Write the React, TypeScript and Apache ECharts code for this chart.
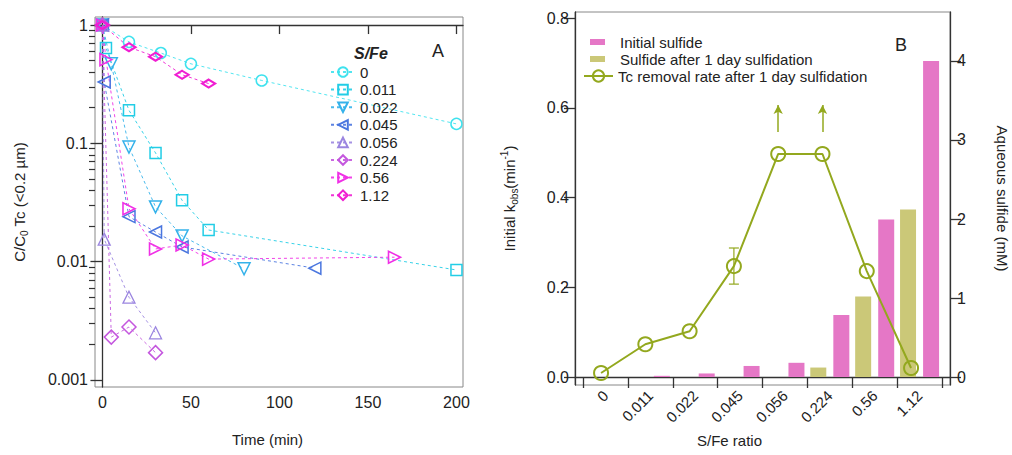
import React, { useEffect, useRef } from 'react';
import * as echarts from 'echarts';

const FONT = "'Liberation Sans', Arial, sans-serif";
const INK = '#222';

// ---------- Panel A: C/C0 vs time ----------
const ratioLabels = ['0', '0.011', '0.022', '0.045', '0.056', '0.224', '0.56', '1.12'];

const timeR0 = [0, 15, 33, 50, 90, 200];
const concR0 = [1, 0.72, 0.58, 0.47, 0.34, 0.146];
const timeR0011 = [0, 2, 15, 30, 45, 60, 200];
const concR0011 = [1, 0.64, 0.19, 0.083, 0.033, 0.0185, 0.0085];
const timeR0022 = [0, 5, 15, 30, 45, 80];
const concR0022 = [1, 0.47, 0.093, 0.029, 0.0165, 0.0087];
const timeR0045 = [0, 1, 15, 30, 45, 120];
const concR0045 = [1, 0.33, 0.024, 0.0178, 0.0133, 0.0088];
const timeR0056 = [0, 1, 15, 30];
const concR0056 = [1, 0.0155, 0.005, 0.0025];
const timeR0224 = [0, 5, 15, 30];
const concR0224 = [1, 0.0023, 0.0028, 0.0017];
const timeR056 = [0, 2, 15, 30, 45, 60, 165];
const concR056 = [1, 0.51, 0.028, 0.0128, 0.0138, 0.0105, 0.0109];
const timeR112 = [0, 15, 30, 45, 60];
const concR112 = [1, 0.65, 0.54, 0.38, 0.32];

const timeTicks = [0, 50, 100, 150, 200];
const concMajorTicks = [0.001, 0.01, 0.1, 1];
const concMinorTicks = [
  0.002, 0.003, 0.004, 0.005, 0.006, 0.007, 0.008, 0.009,
  0.02, 0.03, 0.04, 0.05, 0.06, 0.07, 0.08, 0.09,
  0.2, 0.3, 0.4, 0.5, 0.6, 0.7, 0.8, 0.9,
];

// ---------- Panel B ----------
const kobs = [0.009, 0.073, 0.102, 0.247, 0.497, 0.497, 0.236, 0.02];
const errCats = ['0.045'];
const errLow = [0.207];
const errHigh = [0.2875];
const arrowCats = ['0.056', '0.224'];
const arrowFrom = [0.546, 0.546];
const arrowTo = [0.606, 0.606];
const initialSulfide = [0, 0.015, 0.045, 0.14, 0.18, 0.785, 1.995, 4.0];
const sulfideAfter1d = [null, null, null, null, null, 0.12, 1.02, 2.12];
const kobsTicks = [0, 0.2, 0.4, 0.6, 0.8];
const sulfideTicks = [0, 1, 2, 3, 4];

const NAME_INITIAL = 'Initial sulfide';
const NAME_AFTER = 'Sulfide after 1 day sulfidation';
const NAME_RATE = 'Tc removal rate after 1 day sulfidation';

const PINK = '#e577c6';
const OLIVE_BAR = '#cbc878';
const OLIVE = '#93a81e';

const seriesAData = [
  { t: timeR0, v: concR0 },
  { t: timeR0011, v: concR0011 },
  { t: timeR0022, v: concR0022 },
  { t: timeR0045, v: concR0045 },
  { t: timeR0056, v: concR0056 },
  { t: timeR0224, v: concR0224 },
  { t: timeR056, v: concR056 },
  { t: timeR112, v: concR112 },
];

const styleA = [
  { color: '#3fe2ee', symbol: 'circle', size: 11, rotate: 0, bw: 1.5 },
  { color: '#22cde6', symbol: 'rect', size: 11, rotate: 0, bw: 1.5 },
  { color: '#35b2ea', symbol: 'triangle', size: 12, rotate: 180, bw: 1.5 },
  { color: '#4a76df', symbol: 'triangle', size: 12, rotate: 90, bw: 1.5 },
  { color: '#9b85e0', symbol: 'triangle', size: 12, rotate: 0, bw: 1.3 },
  { color: '#c457de', symbol: 'diamond', size: 14, rotate: 0, bw: 1.5 },
  { color: '#f030e6', symbol: 'triangle', size: 12, rotate: -90, bw: 1.6 },
  { color: '#f01ed2', symbol: 'diamond', size: [13, 8], rotate: 0, bw: 2.2 },
];

const log10 = (x: number) => Math.log10(x);

function buildOption(): any {
  const fmtConc = (v: number) => {
    const p = Math.round(v);
    return String(Math.pow(10, p).toFixed(Math.max(0, -p)));
  };

  const seriesA = seriesAData.map((s, i) => ({
    name: ratioLabels[i],
    type: 'line',
    xAxisIndex: 0,
    yAxisIndex: 0,
    data: s.t.map((t, j) => [t, log10(s.v[j])]),
    symbol: styleA[i].symbol,
    symbolSize: styleA[i].size,
    symbolRotate: styleA[i].rotate,
    showAllSymbol: true,
    lineStyle: { color: styleA[i].color, width: 1, type: [3, 3], opacity: 0.9 },
    itemStyle: { color: 'rgba(255,255,255,0)', borderColor: styleA[i].color, borderWidth: styleA[i].bw },
    z: 3,
  }));

  const barCommon = { type: 'bar', xAxisIndex: 2, yAxisIndex: 4, barWidth: 16, barGap: '44%' };

  return {
    animation: false,
    textStyle: { fontFamily: FONT, color: INK },
    grid: [
      { left: 95, top: 17, width: 368, height: 370, show: true, borderColor: '#888', borderWidth: 1 },
      { left: 575, top: 12, width: 375, height: 373, show: true, borderColor: '#888', borderWidth: 1 },
      { left: 583, top: 12, width: 359, height: 373 },
      { left: 578.9, top: 12, width: 354.3, height: 373 },
    ],
    xAxis: [
      {
        gridIndex: 0, type: 'value', min: -4.2, max: 203.7,
        axisLine: { show: true, lineStyle: { color: '#333', width: 1.3 } },
        axisTick: { show: true, customValues: timeTicks, length: 9, lineStyle: { color: '#333', width: 1.3 } },
        axisLabel: { customValues: timeTicks, fontSize: 16, color: INK, margin: 7, fontFamily: FONT },
        splitLine: { show: false },
      },
      {
        gridIndex: 1, type: 'value', min: 0, max: 1,
        axisLine: { show: true, lineStyle: { color: '#333', width: 1.3 } },
        axisTick: { show: false }, axisLabel: { show: false }, splitLine: { show: false },
      },
      {
        gridIndex: 2, type: 'category', data: ratioLabels, boundaryGap: true,
        axisLine: { show: false },
        axisTick: { show: true, interval: 0, length: 11, lineStyle: { color: '#333', width: 1.3 } },
        axisLabel: { interval: 0, rotate: 45, fontSize: 15, color: INK, margin: 8, fontFamily: FONT },
        splitLine: { show: false },
      },
      {
        gridIndex: 3, type: 'category', data: ratioLabels, boundaryGap: true, show: false,
      },
    ],
    yAxis: [
      {
        gridIndex: 0, type: 'value', min: -3.06, max: 0.068, position: 'left',
        axisLine: { show: true, lineStyle: { color: '#333', width: 1.3 } },
        axisTick: { show: true, customValues: concMajorTicks.map(log10), length: 12, lineStyle: { color: '#333', width: 1.3 } },
        axisLabel: { customValues: concMajorTicks.map(log10), formatter: fmtConc, fontSize: 16, color: INK, margin: 7, fontFamily: FONT },
        splitLine: { show: false },
        name: '{n|C/C}{s|0}{n| Tc (<0.2 µm)}',
        nameLocation: 'middle', nameGap: 66, nameRotate: 90,
        nameTextStyle: {
          fontFamily: FONT, color: INK,
          rich: {
            n: { fontSize: 15, fontFamily: FONT, color: INK, lineHeight: 20 },
            s: { fontSize: 10, fontFamily: FONT, color: INK, lineHeight: 10, verticalAlign: 'bottom' },
          },
        },
      },
      {
        gridIndex: 0, type: 'value', min: -3.06, max: 0.068, position: 'left',
        axisLine: { show: false },
        axisTick: { show: true, customValues: concMinorTicks.map(log10), length: 6, lineStyle: { color: '#333', width: 1.2 } },
        axisLabel: { show: false },
        splitLine: { show: false },
      },
      {
        gridIndex: 1, type: 'value', min: -0.0178, max: 0.8134, position: 'left',
        axisLine: { show: true, lineStyle: { color: '#333', width: 1.3 } },
        axisTick: { show: true, customValues: kobsTicks, length: 11, lineStyle: { color: '#333', width: 1.3 } },
        axisLabel: { customValues: kobsTicks, formatter: (v: number) => v.toFixed(1), fontSize: 16, color: INK, margin: 6, fontFamily: FONT },
        splitLine: { show: false },
        name: '{n|Initial k}{s|obs}{n|(min}{p|-1}{n|)}',
        nameLocation: 'middle', nameGap: 56, nameRotate: 90,
        nameTextStyle: {
          fontFamily: FONT, color: INK,
          rich: {
            n: { fontSize: 15, fontFamily: FONT, color: INK, lineHeight: 20 },
            s: { fontSize: 10, fontFamily: FONT, color: INK, lineHeight: 10, verticalAlign: 'bottom' },
            p: { fontSize: 10, fontFamily: FONT, color: INK, lineHeight: 10, verticalAlign: 'top' },
          },
        },
      },
      {
        gridIndex: 1, type: 'value', min: -0.101, max: 4.62, position: 'right',
        axisLine: { show: true, lineStyle: { color: '#333', width: 1.3 } },
        axisTick: { show: true, customValues: sulfideTicks, length: 11, lineStyle: { color: '#333', width: 1.3 } },
        axisLabel: { customValues: sulfideTicks, fontSize: 16, color: INK, margin: 7, fontFamily: FONT },
        splitLine: { show: false },
        name: 'Aqueous sulfide (mM)',
        nameLocation: 'middle', nameGap: 45, nameRotate: -90,
        nameTextStyle: { fontSize: 15, fontFamily: FONT, color: INK },
      },
      { gridIndex: 2, type: 'value', min: -0.101, max: 4.62, show: false },
      { gridIndex: 3, type: 'value', min: -0.0178, max: 0.8134, show: false },
    ],
    legend: [
      {
        data: ratioLabels,
        orient: 'vertical', left: 330, top: 63.5, padding: 0,
        itemWidth: 24, itemHeight: 12, itemGap: 0.6,
        textStyle: { fontSize: 15, fontFamily: FONT, color: INK, lineHeight: 17 },
        selectedMode: false,
      },
      {
        data: [
          { name: NAME_INITIAL, icon: 'rect' },
          { name: NAME_AFTER, icon: 'rect' },
        ],
        orient: 'vertical', left: 590, top: 33.5, padding: 0,
        itemWidth: 15, itemHeight: 6, itemGap: 0,
        textStyle: { fontSize: 15, fontFamily: FONT, color: INK, lineHeight: 17, padding: [0, 0, 0, 10] },
        selectedMode: false,
      },
      {
        data: [NAME_RATE],
        orient: 'vertical', left: 583, top: 67.5, padding: 0,
        itemWidth: 29, itemHeight: 14, itemGap: 0,
        textStyle: { fontSize: 15, fontFamily: FONT, color: INK, lineHeight: 17 },
        selectedMode: false,
      },
    ],
    graphic: [
      { type: 'text', left: 354, top: 45, style: { text: 'S/Fe', font: `italic bold 16px ${FONT}`, fill: INK } },
      { type: 'text', left: 432, top: 42, style: { text: 'A', font: `18px ${FONT}`, fill: INK } },
      { type: 'text', left: 895, top: 36, style: { text: 'B', font: `18px ${FONT}`, fill: INK } },
      { type: 'text', left: 232, top: 432, style: { text: 'Time (min)', font: `15px ${FONT}`, fill: INK } },
      { type: 'text', left: 697, top: 433, style: { text: 'S/Fe ratio', font: `15px ${FONT}`, fill: INK } },
    ],
    series: [
      ...seriesA,
      { ...barCommon, name: NAME_AFTER, data: sulfideAfter1d, itemStyle: { color: OLIVE_BAR }, z: 2 },
      { ...barCommon, name: NAME_INITIAL, data: initialSulfide, itemStyle: { color: PINK }, z: 2 },
      {
        name: NAME_RATE, type: 'line', xAxisIndex: 3, yAxisIndex: 5,
        data: kobs, symbol: 'circle', symbolSize: 14, showAllSymbol: true,
        lineStyle: { color: OLIVE, width: 2 },
        itemStyle: { color: 'rgba(255,255,255,0)', borderColor: OLIVE, borderWidth: 2 },
        z: 5,
        markLine: {
          silent: true, symbol: ['none', 'arrow'], symbolSize: [7, 9],
          label: { show: false },
          lineStyle: { color: OLIVE, width: 1.5, type: 'solid' },
          data: arrowCats.map((c, i) => [
            { coord: [ratioLabels.indexOf(c), arrowFrom[i]] },
            { coord: [ratioLabels.indexOf(c), arrowTo[i]] },
          ]),
        },
      },
      {
        type: 'custom', xAxisIndex: 3, yAxisIndex: 5, z: 6,
        data: errCats.map((c, i) => [ratioLabels.indexOf(c), errLow[i], errHigh[i]]),
        renderItem: (params: any, api: any) => {
          const lo = api.coord([api.value(0), api.value(1)]);
          const hi = api.coord([api.value(0), api.value(2)]);
          const w = 5;
          const st = { stroke: OLIVE, lineWidth: 1.2 };
          return {
            type: 'group',
            children: [
              { type: 'line', shape: { x1: lo[0], y1: lo[1], x2: hi[0], y2: hi[1] }, style: st },
              { type: 'line', shape: { x1: lo[0] - w, y1: lo[1], x2: lo[0] + w, y2: lo[1] }, style: st },
              { type: 'line', shape: { x1: hi[0] - w, y1: hi[1], x2: hi[0] + w, y2: hi[1] }, style: st },
            ],
          };
        },
      },
    ],
  };
}

export default function App() {
  const ref = useRef<HTMLDivElement>(null);
  useEffect(() => {
    if (!ref.current) return;
    const chart = echarts.init(ref.current, null, { renderer: 'svg' });
    chart.setOption(buildOption());
    return () => chart.dispose();
  }, []);
  return (
    <div
      ref={ref}
      style={{ position: 'fixed', left: 0, top: 0, width: 1012, height: 455, background: '#fff' }}
    />
  );
}
